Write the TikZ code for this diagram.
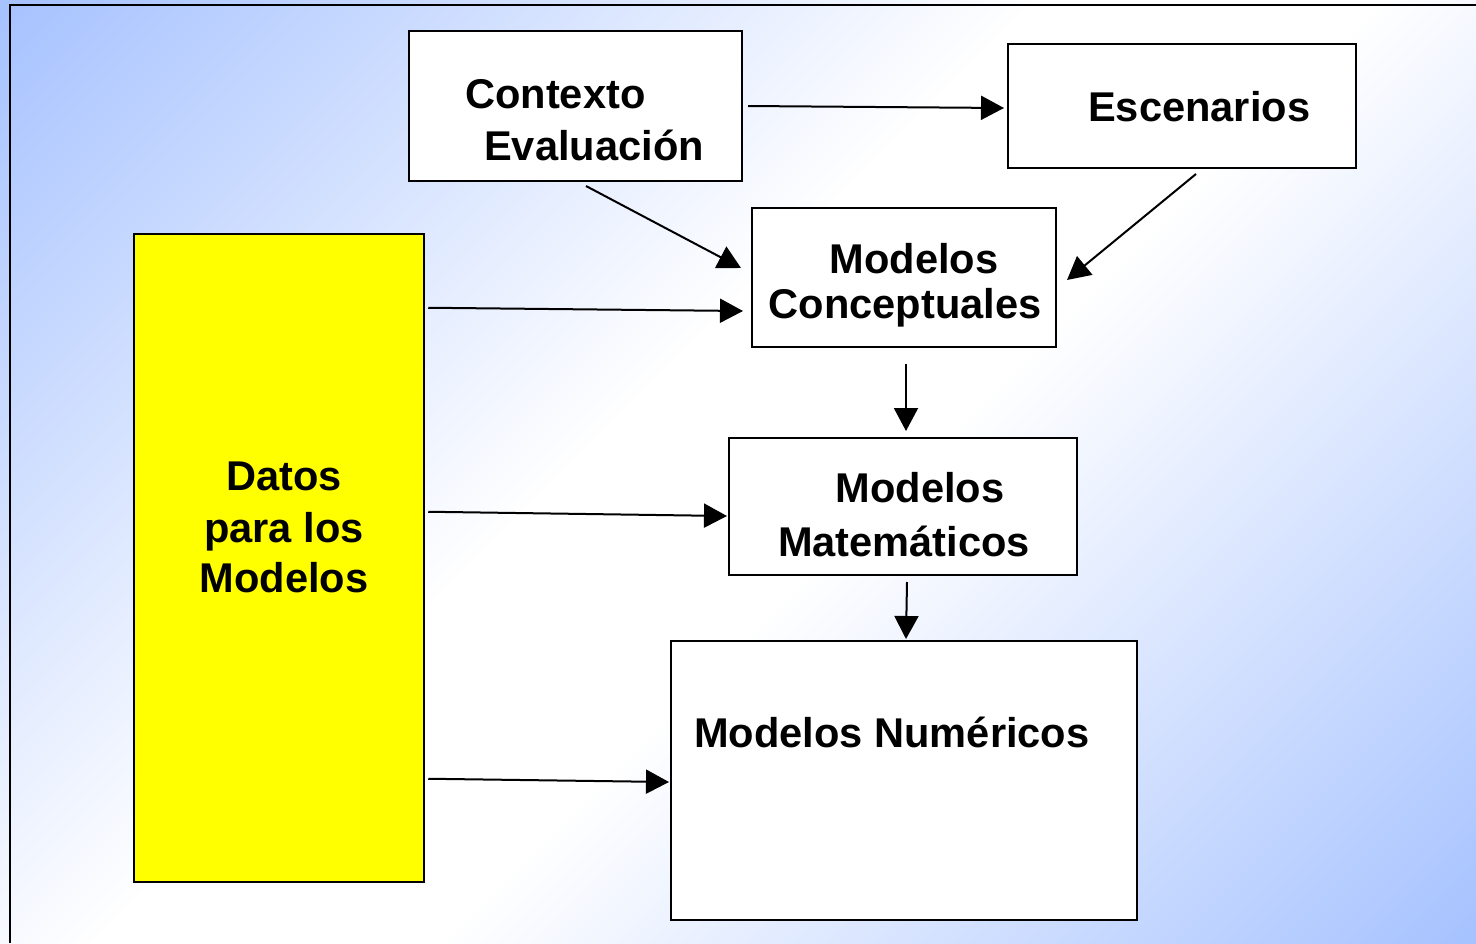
\documentclass[tikz,border=0pt]{standalone}
\usepackage{fontspec}
\setmainfont{Liberation Sans}
\usetikzlibrary{arrows.meta,calc,positioning}
\definecolor{fondoazul}{RGB}{166,194,255}
\definecolor{amarillo}{RGB}{255,255,0}
\pgfdeclarehorizontalshading{fondodiag}{100bp}{color(0bp)=(fondoazul); color(14.64bp)=(fondoazul);
  color(45bp)=(white); color(55bp)=(white); color(85.36bp)=(fondoazul); color(100bp)=(fondoazul)}
\tikzset{
  caja/.style={draw=black, line width=2pt, fill=white, inner sep=0pt},
  texto/.style={inner sep=0pt, font=\bfseries\fontsize{41.6}{50}\selectfont},
  flecha/.style={line width=2pt, -{Triangle[length=23pt,width=24pt]}}
}

\begin{document}
\begin{tikzpicture}[x=1pt,y=-1pt]
\useasboundingbox (0,0) rectangle (1476,943);
\shade[shading=fondodiag, shading angle=-45] (0,0) rectangle (1476,943);
\draw[line width=2.5pt] (10,943) -- (10,5) -- (1476,5);

% cajas
\node[caja, minimum width=333, minimum height=150] (ctx) at (575.5,106) {};
\node[caja, minimum width=348, minimum height=124] (esc) at (1182,106) {};
\node[caja, minimum width=304, minimum height=139] (concep) at (904,277.5) {};
\node[caja, minimum width=348, minimum height=137] (mat) at (903,506.5) {};
\node[caja, minimum width=466, minimum height=279] (num) at (904,780.5) {};
\node[caja, fill=amarillo, line width=2.5pt, minimum width=290, minimum height=648] (datos) at (279,558) {};

% textos
\node[texto, anchor=base west] (ctxA) at (465,108) {Contexto};
\node[texto, anchor=base west] (ctxB) at (484,160) {Evaluación};
\node[texto, anchor=base west] (escA) at (1088,121) {Escenarios};
\node[texto, anchor=base] (concepA) at (914,273) {Modelos};
\node[texto, anchor=base] (concepB) at (905,318) {Conceptuales};
\node[texto, anchor=base] (matA) at (920,502) {Modelos};
\node[texto, anchor=base] (matB) at (904,556) {Matemáticos};
\node[texto, anchor=base west] (numA) at (694,747) {Modelos Numéricos};
\node[texto, anchor=base] (datosA) at (284,490) {Datos};
\node[texto, anchor=base] (datosB) at (284,542) {para los};
\node[texto, anchor=base] (datosC) at (284,592) {Modelos};

% flechas
\draw[flecha] ($(ctx.east)+(5,0)$) -- ($(esc.west)+(-3,2)$);
\draw[flecha] ($(ctx.south)+(10.5,4)$) -- ($(concep.west)+(-10,-9.5)$);
\draw[flecha] ($(esc.south)+(14,5)$) -- ($(concep.east)+(10,2.5)$);
\draw[flecha] ($(datos.north east)+(3,75)$) -- ($(concep.west)+(-8,33.5)$);
\draw[flecha] ($(concep.south)+(2,16)$) -- ($(mat.north)+(3,-6)$);
\draw[flecha] ($(datos.north east)+(3,279)$) -- ($(mat.west)+(-1,9.5)$);
\draw[flecha] ($(mat.south)+(4,6)$) -- ($(num.north)+(2,-1)$);
\draw[flecha] ($(datos.north east)+(3,546)$) -- ($(num.west)+(-1,1.5)$);
\end{tikzpicture}
\end{document}
